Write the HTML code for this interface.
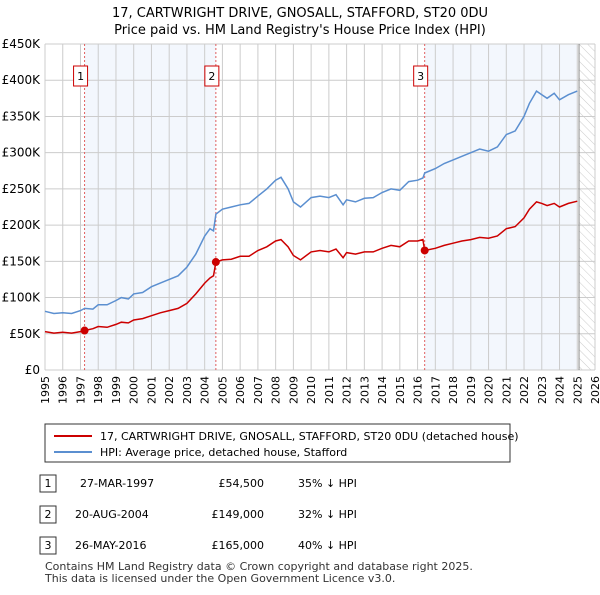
<!DOCTYPE html>
<html><head><meta charset="utf-8"><style>
body{margin:0;background:#fff;font-family:"Liberation Sans","DejaVu Sans",sans-serif;}
svg text{font-family:"DejaVu Sans","Liberation Sans",sans-serif;}
</style></head><body>
<svg id="chart" width="600" height="590" xmlns="http://www.w3.org/2000/svg">
<defs><pattern id="hatch" width="6" height="6" patternUnits="userSpaceOnUse" patternTransform="rotate(-45)"><line x1="0" y1="0" x2="0" y2="6" stroke="#ccc" stroke-width="1"/></pattern></defs>
<text x="300" y="17" text-anchor="middle" font-size="13">17, CARTWRIGHT DRIVE, GNOSALL, STAFFORD, ST20 0DU</text>
<text x="300" y="34" text-anchor="middle" font-size="13">Price paid vs. HM Land Registry's House Price Index (HPI)</text>
<g id="plot"></g>
<g>
<rect x="45" y="424" width="465" height="38" fill="#fff" stroke="#333"/>
<line x1="54" y1="436" x2="92" y2="436" stroke="#cc0000" stroke-width="2"/>
<text x="100" y="440" font-size="11">17, CARTWRIGHT DRIVE, GNOSALL, STAFFORD, ST20 0DU (detached house)</text>
<line x1="54" y1="452" x2="92" y2="452" stroke="#5b8fd0" stroke-width="2"/>
<text x="100" y="456" font-size="11">HPI: Average price, detached house, Stafford</text>
</g>
<g font-size="11">
<rect x="40" y="475" width="16" height="17" fill="#fff" stroke="#333"/><text x="48" y="487" text-anchor="middle">1</text>
<text x="80" y="487">27-MAR-1997</text><text x="264" y="487" text-anchor="end">£54,500</text><text x="298" y="487">35% ↓ HPI</text>
<rect x="40" y="506" width="16" height="17" fill="#fff" stroke="#333"/><text x="48" y="518" text-anchor="middle">2</text>
<text x="75" y="518">20-AUG-2004</text><text x="264" y="518" text-anchor="end">£149,000</text><text x="298" y="518">32% ↓ HPI</text>
<rect x="40" y="537" width="16" height="17" fill="#fff" stroke="#333"/><text x="48" y="549" text-anchor="middle">3</text>
<text x="75" y="549">26-MAY-2016</text><text x="264" y="549" text-anchor="end">£165,000</text><text x="298" y="549">40% ↓ HPI</text>
</g>
<text x="45" y="570" font-size="11" fill="#333">Contains HM Land Registry data © Crown copyright and database right 2025.</text>
<text x="45" y="582" font-size="11" fill="#333">This data is licensed under the Open Government Licence v3.0.</text>
</svg>
<script>
const dates=[1995,1995.5,1996,1996.5,1997,1997.23,1997.7,1998,1998.5,1999,1999.3,1999.7,2000,2000.5,2001,2001.5,2002,2002.5,2003,2003.5,2004,2004.3,2004.5,2004.63,2005,2005.5,2006,2006.5,2007,2007.5,2008,2008.3,2008.7,2009,2009.4,2010,2010.5,2011,2011.4,2011.8,2012,2012.5,2013,2013.5,2014,2014.5,2015,2015.5,2016,2016.3,2016.4,2017,2017.5,2018,2018.5,2019,2019.5,2020,2020.5,2021,2021.5,2022,2022.3,2022.7,2023,2023.3,2023.7,2024,2024.5,2025];
const hpi=[81,78,79,78,82,85,84,90,90,96,100,98,105,107,115,120,125,130,142,160,185,195,192,215,222,225,228,230,240,250,262,266,250,232,225,238,240,238,242,228,235,232,237,238,245,250,248,260,262,265,272,278,285,290,295,300,305,302,308,325,330,350,368,385,380,375,382,373,380,385];
const price=[53,51,52,51,53,54.5,57,60,59,63,66,65,69,71,75,79,82,85,92,105,120,127,130,149,152,153,157,157,165,170,178,180,170,158,152,163,165,163,167,155,162,160,163,163,168,172,170,178,178,180,165,168,172,175,178,180,183,182,185,195,198,210,222,232,230,227,230,225,230,233];
const saleDates=[1997.23,2004.63,2016.4];
const salePrices=[54.5,149,165];
const saleLabels=["1","2","3"];
const yTicks=[0,50,100,150,200,250,300,350,400,450];
const yTickLabels=["£0","£50K","£100K","£150K","£200K","£250K","£300K","£350K","£400K","£450K"];
const xYears=[1995,1996,1997,1998,1999,2000,2001,2002,2003,2004,2005,2006,2007,2008,2009,2010,2011,2012,2013,2014,2015,2016,2017,2018,2019,2020,2021,2022,2023,2024,2025,2026];
const X0=45,X1=595,Y0=370,Y1=44;
const x=d=>X0+(d-1995)/(2026-1995)*(X1-X0);
const y=v=>Y0-v/450*(Y0-Y1);
const NS="http://www.w3.org/2000/svg";
const g=document.getElementById('plot');
function mk(t,a){const e=document.createElementNS(NS,t);for(const k in a)e.setAttribute(k,a[k]);g.appendChild(e);return e;}
let e;
e=mk('rect',{x:x(saleDates[0]),y:Y1,width:x(saleDates[1])-x(saleDates[0]),height:Y0-Y1,fill:'#eef3fc',opacity:0.7});

e=mk('rect',{x:x(saleDates[2]),y:Y1,width:x(2025)-x(saleDates[2]),height:Y0-Y1,fill:'#eef3fc',opacity:0.7});

e=mk('rect',{x:x(2025.1),y:Y1,width:X1-x(2025.1),height:Y0-Y1,fill:'url(#hatch)'});

xYears.forEach(yr=>{e=mk('line',{x1:x(yr),y1:Y1,x2:x(yr),y2:Y0,stroke:'#ccc'});

e=mk('text',{x:0,y:0,'font-size':11,'text-anchor':'end',transform:`translate(${x(yr)+4},${Y0+6}) rotate(-90)`});e.textContent=yr;
});
yTicks.forEach((v,i)=>{e=mk('line',{x1:X0,y1:y(v),x2:X1,y2:y(v),stroke:'#ccc'});

e=mk('text',{x:X0-5,y:y(v)+4,'font-size':12,'text-anchor':'end'});e.textContent=yTickLabels[i];
});
e=mk('line',{x1:x(2025.1),y1:Y1,x2:x(2025.1),y2:Y0,stroke:'#888'});

saleDates.forEach((d,i)=>{e=mk('line',{x1:x(d),y1:Y1,x2:x(d),y2:Y0,stroke:'#e06060','stroke-dasharray':'2,2'});

e=mk('rect',{x:x(d)-11,y:66,width:14,height:20,fill:'#fff',stroke:'#cc0000'});

e=mk('text',{x:x(d)-4,y:80,'font-size':11,'text-anchor':'middle'});e.textContent=saleLabels[i];
});
const pts=arr=>dates.map((d,i)=>x(d).toFixed(1)+','+y(arr[i]).toFixed(1)).join(' ');
e=mk('polyline',{points:pts(hpi),fill:'none',stroke:'#5b8fd0','stroke-width':1.5});

e=mk('polyline',{points:pts(price),fill:'none',stroke:'#cc0000','stroke-width':1.5});

saleDates.forEach((d,i)=>{e=mk('circle',{cx:x(d),cy:y(salePrices[i]),r:4,fill:'#cc0000'});
});
</script>
</body></html>
